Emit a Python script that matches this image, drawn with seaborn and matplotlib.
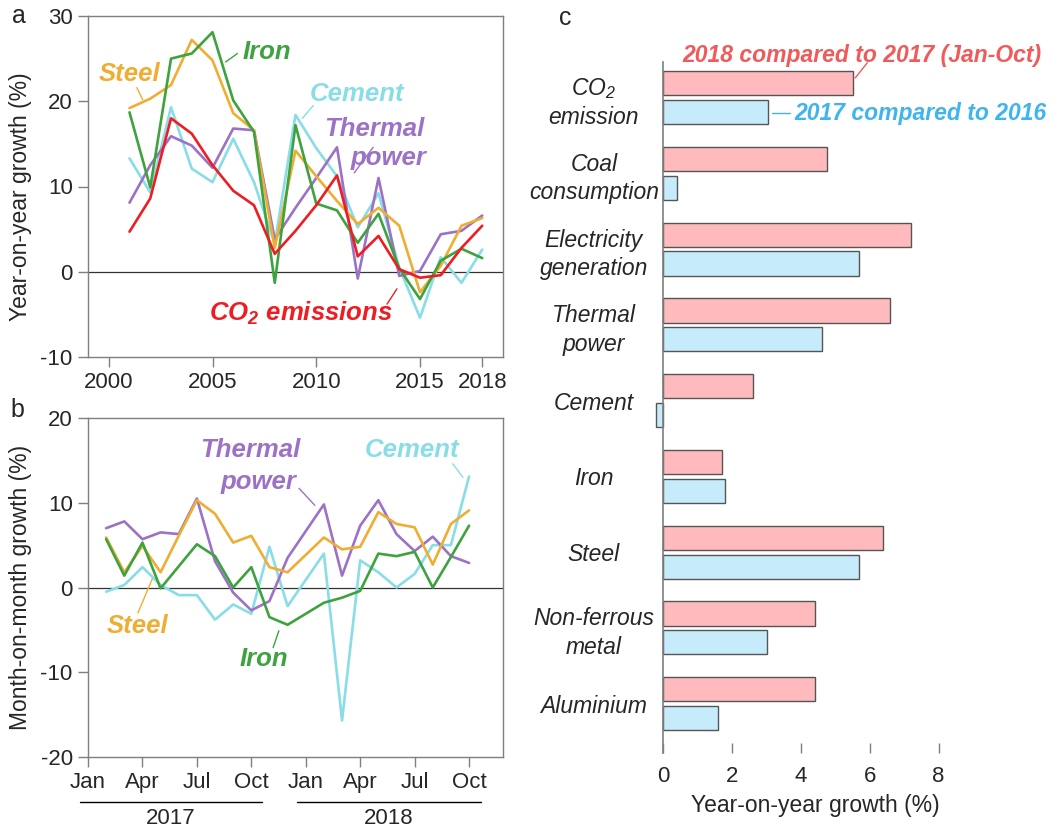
import matplotlib
matplotlib.use('Agg')
import matplotlib.pyplot as plt
import matplotlib.transforms as mtransforms
import numpy as np
import pandas as pd
import seaborn as sns

# panel a: annual year-on-year growth (%)
years = list(range(2001, 2019))
steel_yoy = [19.2, 20.3, 21.9, 27.2, 24.8, 18.6, 16.6, 2.8, 14.2, 11.2, 8.3, 5.6, 7.5, 5.4, -2.4, 0.7, 5.4, 6.3]
iron_yoy = [18.7, 9.9, 25.0, 25.6, 28.1, 20.1, 16.4, -1.3, 17.2, 8.0, 7.2, 3.4, 6.8, 0.4, -3.2, 1.3, 2.7, 1.6]
cement_yoy = [13.3, 9.3, 19.3, 12.1, 10.5, 15.6, 10.5, 3.3, 18.4, 14.5, 11.2, 5.2, 9.2, 0.5, -5.4, 1.7, -1.3, 2.6]
thermal_yoy = [8.1, 12.5, 15.9, 14.8, 12.2, 16.8, 16.6, 3.8, 7.5, 11.0, 14.6, -0.8, 11.0, -0.5, 0.1, 4.4, 4.8, 6.6]
co2_yoy = [4.7, 8.6, 18.0, 16.2, 12.5, 9.5, 7.8, 2.1, 4.8, 7.8, 11.3, 1.8, 4.2, 0.3, -0.7, -0.4, 2.8, 5.4]

# panel b: month-on-month growth (%), month index 0 = Jan 2017 (Jan 2018 merged with Feb)
months = [1, 2, 3, 4, 5, 6, 7, 8, 9, 10, 11, 13, 14, 15, 16, 17, 18, 19, 20, 21]
steel_mom = [5.9, 1.8, 4.9, 1.8, 6.1, 10.3, 8.7, 5.3, 6.1, 2.4, 1.8, 5.9, 4.5, 4.8, 8.9, 7.5, 7.1, 2.7, 7.5, 9.1]
thermal_mom = [7.0, 7.8, 5.7, 6.5, 6.3, 10.5, 3.1, -0.6, -2.7, -1.6, 3.5, 9.8, 1.4, 7.3, 10.3, 6.3, 4.3, 6.0, 3.7, 2.9]
iron_mom = [5.7, 1.4, 5.3, -0.1, 2.5, 5.1, 3.7, 0.0, 2.4, -3.5, -4.4, -1.8, -1.2, -0.4, 4.0, 3.7, 4.2, 0.0, 3.6, 7.3]
cement_mom = [-0.5, 0.3, 2.4, 0.3, -0.9, -0.9, -3.8, -2.0, -3.1, 4.8, -2.2, 4.0, -15.7, 3.2, 1.8, 0.0, 1.6, 5.0, 5.0, 13.1]
month_ticks = [0, 3, 6, 9, 12, 15, 18, 21]
month_labels = ['Jan', 'Apr', 'Jul', 'Oct', 'Jan', 'Apr', 'Jul', 'Oct']

# panel c: year-on-year growth by sector
sectors = ['CO$_2$\nemission', 'Coal\nconsumption', 'Electricity\ngeneration', 'Thermal\npower',
           'Cement', 'Iron', 'Steel', 'Non-ferrous\nmetal', 'Aluminium']
growth_2018 = [5.5, 4.75, 7.2, 6.6, 2.6, 1.7, 6.4, 4.4, 4.4]
growth_2017 = [3.05, 0.4, 5.7, 4.6, -0.2, 1.8, 5.7, 3.0, 1.6]

_COLORS = {'Cement': '#88dde6', 'Thermal power': '#9b72c6', 'Steel': '#f0ad33',
           'Iron': '#3ea23e', 'CO2': '#ee1d24'}
_GREY = '#7f7f7f'
_PINK = '#ffbabd'
_BLUE = '#c6ecfb'

sns.set_style('white')
plt.rcParams['font.family'] = ['Liberation Sans', 'DejaVu Sans']
plt.rcParams['mathtext.default'] = 'regular'
plt.rcParams['axes.unicode_minus'] = False

W, H = 1062, 832
fig = plt.figure(figsize=(W / 100, H / 100), dpi=100)

def px_axes(l, t, r, b):
    return fig.add_axes([l / W, 1 - b / H, (r - l) / W, (b - t) / H])

ax_a = px_axes(88, 16, 503, 357)
ax_b = px_axes(88, 418, 503, 757)
ax_c = px_axes(652, 62, 1041, 753)

def style_line_axes(ax):
    for s in ax.spines.values():
        s.set_color(_GREY)
        s.set_linewidth(1)
    ax.tick_params(axis='both', which='both', direction='out', length=7, width=1,
                   color=_GREY, labelsize=16, pad=4, bottom=True, left=True)
    ax.axhline(0, color='#333333', lw=0.9, zorder=1)

# ---- panel a
order_a = ['Cement', 'Thermal power', 'Steel', 'Iron', 'CO2']
df_a = pd.DataFrame({'year': years * 5,
                     'growth': cement_yoy + thermal_yoy + steel_yoy + iron_yoy + co2_yoy,
                     'series': np.repeat(order_a, len(years))})
sns.lineplot(df_a, x='year', y='growth', hue='series', hue_order=order_a,
             palette=_COLORS, linewidth=1.9, legend=False, ax=ax_a, zorder=3)
style_line_axes(ax_a)
ax_a.set_xlim(1999, 2019)
ax_a.set_ylim(-10, 30)
ax_a.set_xticks([2000, 2005, 2010, 2015, 2018])
ax_a.set_yticks([-10, 0, 10, 20, 30])
ax_a.set_xlabel('')
ax_a.set_ylabel('Year-on-year growth (%)', fontsize=16.5)
ax_a.yaxis.set_label_coords(-0.135, 0.47)

lab = dict(fontsize=18.5, fontweight='bold', fontstyle='italic', ha='center', va='center')
ax_a.text(2001.0, 23.2, 'Steel', color=_COLORS['Steel'], **lab)
ax_a.plot([2001.35, 2001.63], [21.6, 20.2], color=_COLORS['Steel'], lw=1)
ax_a.text(2007.64, 25.8, 'Iron', color=_COLORS['Iron'], **lab)
ax_a.plot([2005.63, 2006.2], [24.6, 25.6], color=_COLORS['Iron'], lw=1)
ax_a.text(2011.97, 20.9, 'Cement', color=_COLORS['Cement'], **lab)
ax_a.plot([2009.33, 2009.86], [18.0, 19.5], color=_COLORS['Cement'], lw=1)
ax_a.text(2012.8, 16.7, 'Thermal', color=_COLORS['Thermal power'], **lab)
ax_a.text(2013.5, 13.3, 'power', color=_COLORS['Thermal power'], **lab)
ax_a.plot([2011.83, 2012.74], [11.6, 14.6], color=_COLORS['Thermal power'], lw=1)
ax_a.text(2009.28, -4.9, 'CO$_2$ emissions', color=_COLORS['CO2'], **lab)
ax_a.plot([2013.41, 2013.89], [-3.8, -2.0], color=_COLORS['CO2'], lw=1)

# ---- panel b
order_b = ['Cement', 'Thermal power', 'Steel', 'Iron']
df_b = pd.DataFrame({'month': months * 4,
                     'growth': cement_mom + thermal_mom + steel_mom + iron_mom,
                     'series': np.repeat(order_b, len(months))})
sns.lineplot(df_b, x='month', y='growth', hue='series', hue_order=order_b,
             palette=_COLORS, linewidth=1.9, legend=False, ax=ax_b, zorder=3)
style_line_axes(ax_b)
ax_b.set_xlim(0, 22.87)
ax_b.set_ylim(-20, 20)
ax_b.set_xticks(month_ticks)
ax_b.set_xticklabels(month_labels)
ax_b.set_yticks([-20, -10, 0, 10, 20])
ax_b.set_xlabel('')
ax_b.set_ylabel('Month-on-month growth (%)', fontsize=16.5)
ax_b.yaxis.set_label_coords(-0.135, 0.5)

ax_b.text(8.93, 16.2, 'Thermal', color=_COLORS['Thermal power'], **lab)
ax_b.text(9.37, 12.5, 'power', color=_COLORS['Thermal power'], **lab)
ax_b.plot([11.63, 12.5], [11.7, 9.7], color=_COLORS['Thermal power'], lw=1)
ax_b.text(17.85, 16.2, 'Cement', color=_COLORS['Cement'], **lab)
ax_b.plot([20.1, 20.66], [14.6, 13.0], color=_COLORS['Cement'], lw=1)
ax_b.text(2.75, -4.5, 'Steel', color=_COLORS['Steel'], **lab)
ax_b.plot([2.75, 3.58], [-3.0, 1.2], color=_COLORS['Steel'], lw=1)
ax_b.text(9.7, -8.4, 'Iron', color=_COLORS['Iron'], **lab)
ax_b.plot([10.52, 10.2], [-5.1, -7.1], color=_COLORS['Iron'], lw=1)

# year brackets under the month axis
trans = mtransforms.blended_transform_factory(ax_b.transData, ax_b.transAxes)
for x0, x1, yr in [(-0.44, 9.6, '2017'), (11.5, 21.65, '2018')]:
    ax_b.plot([x0, x1], [-0.133, -0.133], color='black', lw=1, transform=trans, clip_on=False)
    ax_b.text((x0 + x1) / 2, -0.18, yr, transform=trans, ha='center', va='center', fontsize=16)

# ---- panel c
df_c = pd.DataFrame({'sector': sectors * 2,
                     'growth': growth_2018 + growth_2017,
                     'period': ['2018'] * len(sectors) + ['2017'] * len(sectors)})
sns.barplot(df_c, x='growth', y='sector', hue='period', hue_order=['2018', '2017'],
            palette=[_PINK, _BLUE], saturation=1, orient='h', width=0.76, gap=0.16,
            edgecolor='#555555', linewidth=1, legend=False, ax=ax_c)
ax_c.set_xlim(-0.33, 10.98)
ax_c.set_ylim(8.65, -0.47)
for s in ['top', 'right', 'bottom']:
    ax_c.spines[s].set_visible(False)
ax_c.spines['left'].set_position(('data', 0))
ax_c.spines['left'].set_color(_GREY)
ax_c.spines['left'].set_linewidth(1.2)
ax_c.set_xticks([0, 2, 4, 6, 8])
ax_c.tick_params(axis='x', direction='in', length=7, width=1, color=_GREY,
                 labelsize=16, pad=9, bottom=True)
ax_c.tick_params(axis='y', length=0, pad=50)
ax_c.set_yticks(range(len(sectors)))
ax_c.set_yticklabels(sectors, fontsize=16.5, fontstyle='italic', ha='center',
                     linespacing=1.3)
ax_c.set_ylabel('')
ax_c.set_xlabel('Year-on-year growth (%)', fontsize=16.5)
ax_c.xaxis.set_label_coords(0.42, -0.06)

ax_c.text(5.78, -0.55, '2018 compared to 2017 (Jan-Oct)', color='#f05a5a', fontsize=16.5,
          fontweight='bold', fontstyle='italic', ha='center', va='center', clip_on=False)
ax_c.plot([5.58, 5.93], [-0.26, -0.46], color='#f05a5a', lw=1, clip_on=False)
ax_c.text(3.81, 0.205, '2017 compared to 2016', color='#3fb4ef', fontsize=16.5,
          fontweight='bold', fontstyle='italic', ha='left', va='center', clip_on=False)
ax_c.plot([3.17, 3.69], [0.205, 0.205], color='#3fb4ef', lw=1, clip_on=False)

# panel letters
fig.text(19 / W, 1 - 16 / H, 'a', fontsize=18, ha='center', va='center')
fig.text(17 / W, 1 - 410 / H, 'b', fontsize=18, ha='center', va='center')
fig.text(565 / W, 1 - 18 / H, 'c', fontsize=18, ha='center', va='center')

fig.savefig('out.png', dpi=100)
